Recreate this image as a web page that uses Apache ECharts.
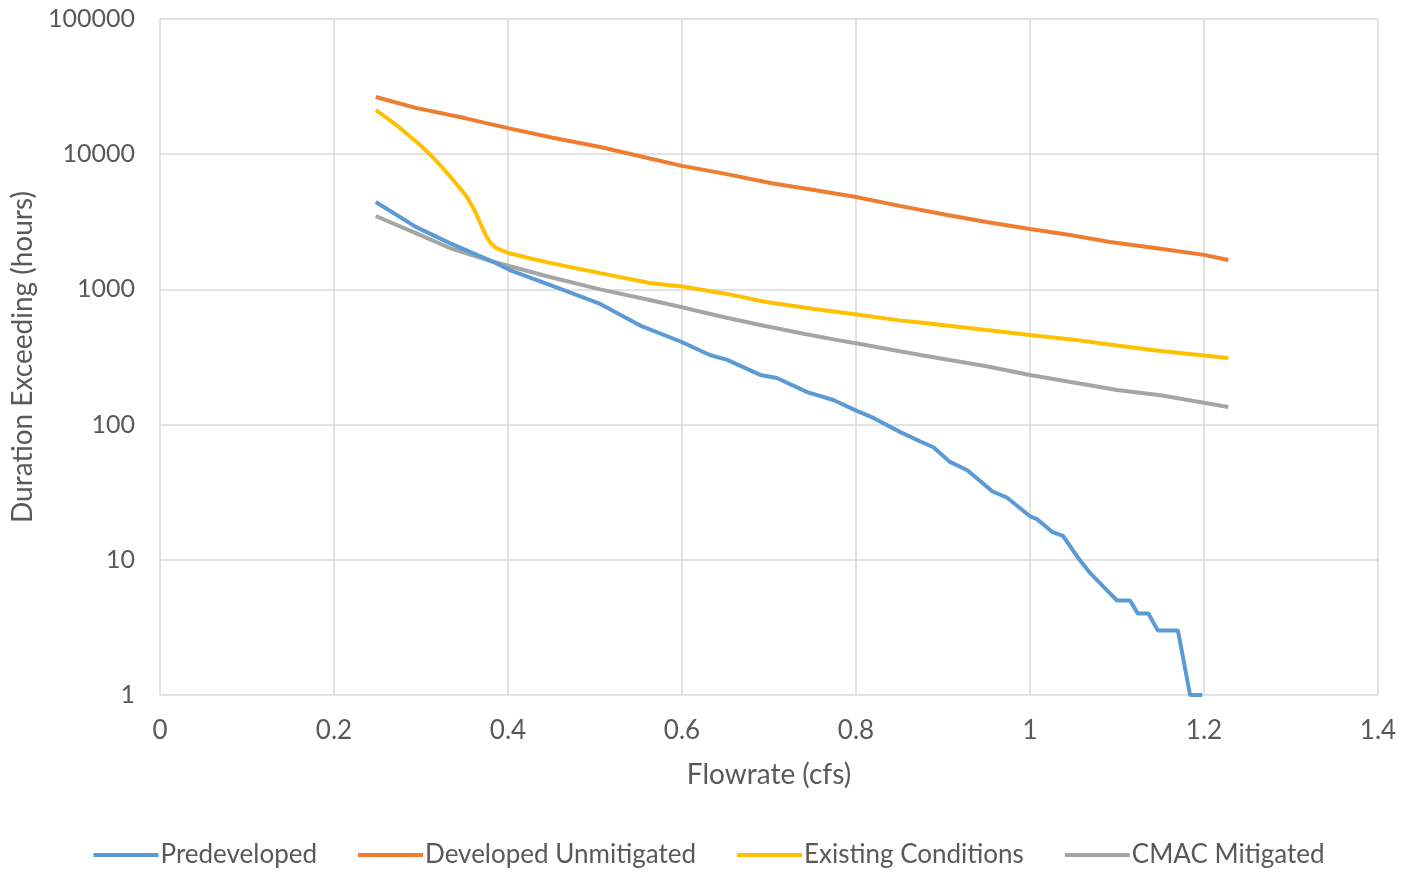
<!DOCTYPE html>
<html lang="en">
<head>
    <meta charset="UTF-8">
    <title>Flow duration</title>
    <style>
        html,body{
            height: 100%;
        }
        body{
            margin: 0;
            padding: 0;
            background: #fff;
        }
        #chart{
            width: 1418px;
            height: 877px;
        }
    </style>
</head>
<body>
    <div id="chart"></div>
</body>
</html>
<script src="https://cdn.jsdelivr.net/npm/echarts@6/dist/echarts.min.js"></script>
<script>
    // values (flow in cfs, duration in hours)
    var predevFlow  = [0.248, 0.294, 0.333, 0.383, 0.402, 0.448, 0.506, 0.552, 0.599, 0.632, 0.652, 0.690, 0.709, 0.744, 0.774, 0.799, 0.820, 0.851, 0.874, 0.889, 0.908, 0.928, 0.957, 0.973, 1.000, 1.008, 1.026, 1.038, 1.057, 1.069, 1.088, 1.100, 1.115, 1.124, 1.136, 1.147, 1.167, 1.170, 1.184, 1.198];
    var predevHours = [4430, 2900, 2200, 1600, 1390, 1080, 780, 540, 410, 327, 301, 233, 221, 174, 152, 128, 112, 88, 75, 68, 53, 46, 32, 29, 21, 20, 16, 15, 10, 8, 6, 5, 5, 4, 4, 3, 3, 3, 1, 1];

    var devFlow  = [0.248, 0.294, 0.350, 0.400, 0.450, 0.506, 0.563, 0.600, 0.650, 0.703, 0.750, 0.800, 0.850, 0.905, 0.950, 1.000, 1.050, 1.092, 1.150, 1.200, 1.228];
    var devHours = [26500, 22000, 18500, 15600, 13300, 11300, 9300, 8200, 7150, 6100, 5450, 4820, 4150, 3550, 3150, 2800, 2500, 2240, 2000, 1800, 1650];

    var existFlow  = [0.248, 0.262, 0.275, 0.288, 0.299, 0.310, 0.322, 0.333, 0.345, 0.353, 0.362, 0.368, 0.374, 0.380, 0.386, 0.393, 0.402, 0.425, 0.448, 0.506, 0.563, 0.600, 0.650, 0.697, 0.750, 0.799, 0.850, 0.874, 0.950, 1.000, 1.050, 1.100, 1.150, 1.228];
    var existHours = [21200, 18300, 15800, 13400, 11700, 10000, 8300, 6900, 5600, 4800, 3800, 3100, 2550, 2200, 2030, 1940, 1850, 1700, 1570, 1320, 1115, 1050, 930, 807, 720, 655, 590, 570, 500, 460, 425, 385, 350, 311];

    var cmacFlow  = [0.248, 0.294, 0.333, 0.383, 0.448, 0.506, 0.563, 0.599, 0.613, 0.650, 0.690, 0.740, 0.782, 0.800, 0.874, 0.950, 1.000, 1.050, 1.100, 1.150, 1.228];
    var cmacHours = [3490, 2610, 2024, 1600, 1236, 1000, 835, 741, 704, 620, 545, 470, 418, 400, 327, 270, 233, 205, 180, 165, 135];

    var names  = ['Predeveloped', 'Developed Unmitigated', 'Existing Conditions', 'CMAC Mitigated'];
    var colors = ['#5B9BD5', '#ED7D31', '#FFC000', '#A5A5A5'];

    function pairs(xs, ys) {
        return xs.map(function (x, i) { return [x, ys[i]]; });
    }

    var seriesData = [
        pairs(predevFlow, predevHours),
        pairs(devFlow, devHours),
        pairs(existFlow, existHours),
        pairs(cmacFlow, cmacHours)
    ];

    var font = 'Lato, "Open Sans", sans-serif';
    var myChart = echarts.init(document.getElementById('chart'));

    myChart.setOption({
        animation: false,
        color: colors,
        textStyle: { fontFamily: font },
        grid: {
            left: 160,
            right: 40,
            top: 19,
            bottom: 182
        },
        legend: {
            bottom: 4,
            left: 'center',
            icon: 'rect',
            itemWidth: 65,
            itemHeight: 4,
            itemGap: 41,
            textStyle: { fontSize: 26, color: '#595959', fontFamily: font, padding: [0, 0, 0, -3] },
            data: names
        },
        xAxis: {
            type: 'value',
            min: 0,
            max: 1.4,
            interval: 0.2,
            name: 'Flowrate (cfs)',
            nameLocation: 'middle',
            nameGap: 66,
            nameTextStyle: { fontSize: 28, color: '#595959' },
            axisLine: { show: false },
            axisTick: { show: false },
            axisLabel: { fontSize: 26, color: '#595959', margin: 23 },
            splitLine: { lineStyle: { color: '#d9d9d9', width: 1.5 } }
        },
        yAxis: {
            type: 'log',
            logBase: 10,
            min: 1,
            max: 100000,
            name: 'Duration Exceeding (hours)',
            nameLocation: 'middle',
            nameGap: 121,
            nameTextStyle: { fontSize: 28, color: '#595959' },
            axisLine: { show: false },
            axisTick: { show: false },
            axisLabel: {
                fontSize: 25,
                color: '#595959',
                margin: 25,
                formatter: function (v) { return String(Math.round(v)); }
            },
            splitLine: { lineStyle: { color: '#d9d9d9', width: 1.5 } }
        },
        series: seriesData.map(function (d, i) {
            return {
                name: names[i],
                type: 'line',
                data: d,
                showSymbol: false,
                symbol: 'none',
                lineStyle: { width: 4, color: colors[i] },
                z: i === 0 ? 5 : 2
            };
        })
    });
</script>
